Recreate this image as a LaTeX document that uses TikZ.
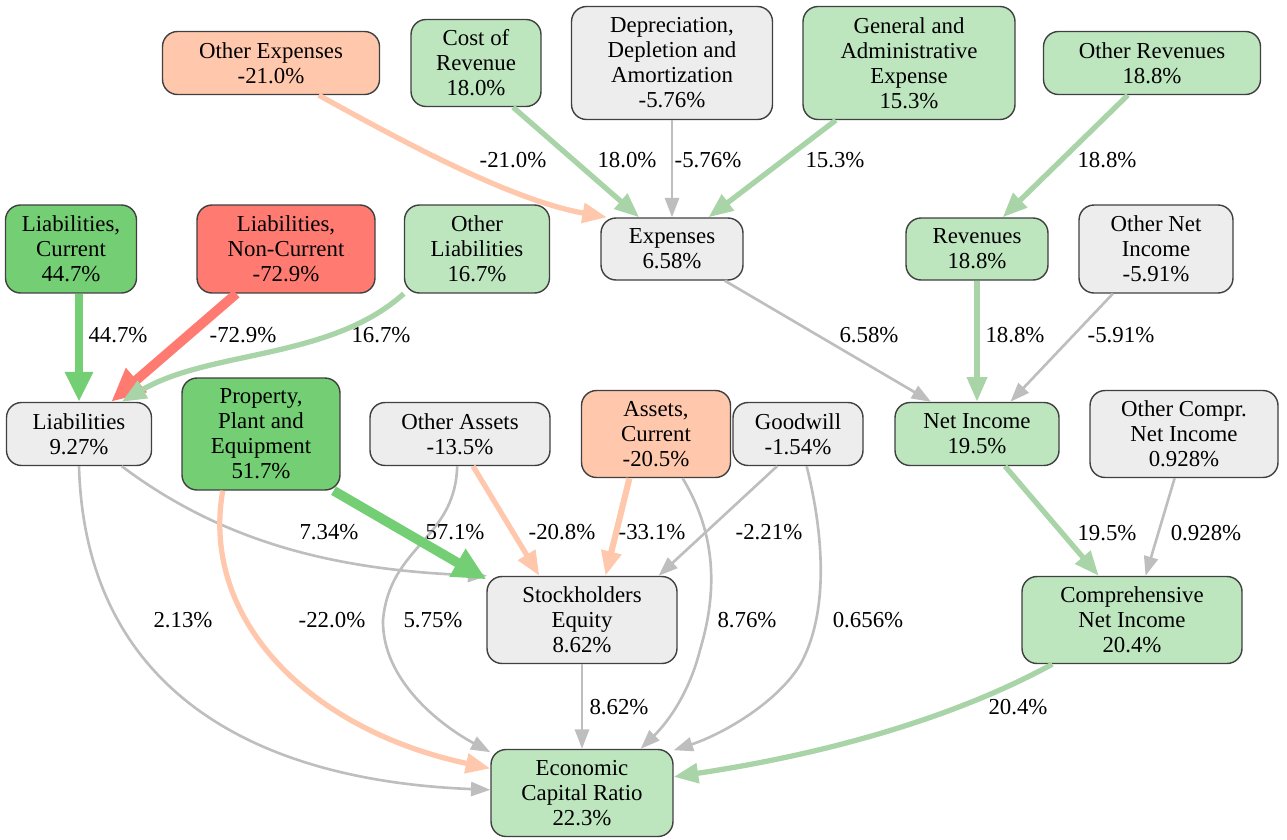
\documentclass[tikz,border=0pt]{standalone}
\usepackage{fontspec}
\setmainfont{Liberation Serif}
\usetikzlibrary{arrows.meta}

\definecolor{fillGood}{HTML}{BDE6BF}
\definecolor{fillBest}{HTML}{74CF74}
\definecolor{fillWorst}{HTML}{FF7B72}
\definecolor{fillBad}{HTML}{FFC8AD}
\definecolor{fillNeutral}{HTML}{EDEDED}
\definecolor{edgeGood}{HTML}{A8D4A8}
\definecolor{edgeNeutral}{HTML}{BEBEBE}

\tikzset{
    box/.style={draw=black!75, line width=0.8pt, rounded corners=0.3cm, align=center, inner sep=0pt},
    sz/.style n args={2}{minimum width=#1, minimum height=#2},
    good/.style={box, fill=fillGood},
    best/.style={box, fill=fillBest},
    bad/.style={box, fill=fillBad},
    worst/.style={box, fill=fillWorst},
    neutral/.style={box, fill=fillNeutral},
    wThin/.style={line width=1.5pt, -{Triangle[length=11pt,width=8pt]}},
    wMid/.style={line width=3pt, -{Triangle[length=14pt,width=11pt]}},
    wBold/.style={line width=4.5pt, -{Triangle[length=17pt,width=15pt]}},
    wHeavy/.style={line width=5.5pt, -{Triangle[length=19pt,width=17pt]}}
}

\begin{document}
\begin{tikzpicture}[x=0.02cm, y=-0.02cm, every node/.style={text=black, font=\fontsize{13}{14.2}\selectfont}]
    \useasboundingbox (0,0) rectangle (1287,839);

    \node[bad, sz={4.34cm}{1.26cm}] (oexp) at (271,63) {Other Expenses\\-21.0\%};
    \node[good, sz={2.60cm}{1.74cm}] (cor) at (476,63) {Cost of\\Revenue\\18.0\%};
    \node[neutral, sz={4.02cm}{2.26cm}] (dda) at (672,63) {Depreciation,\\Depletion and\\Amortization\\-5.76\%};
    \node[good, sz={4.24cm}{2.26cm}] (ga) at (909,63) {General and\\Administrative\\Expense\\15.3\%};
    \node[good, sz={4.34cm}{1.26cm}] (orev) at (1152,63) {Other Revenues\\18.8\%};

    \node[best, sz={2.62cm}{1.76cm}] (lcur) at (71,249) {Liabilities,\\Current\\44.7\%};
    \node[worst, sz={3.56cm}{1.76cm}] (lnc) at (286,249) {Liabilities,\\Non-Current\\-72.9\%};
    \node[good, sz={2.90cm}{1.76cm}] (oliab) at (477,249) {Other\\Liabilities\\16.7\%};
    \node[neutral, sz={2.84cm}{1.24cm}] (exp) at (672,249) {Expenses\\6.58\%};
    \node[good, sz={2.84cm}{1.24cm}] (rev) at (977,249) {Revenues\\18.8\%};
    \node[neutral, sz={3.08cm}{1.76cm}] (oni) at (1156,249) {Other Net\\Income\\-5.91\%};

    \node[neutral, sz={2.90cm}{1.26cm}] (liab) at (79,434) {Liabilities\\9.27\%};
    \node[best, sz={3.16cm}{2.24cm}] (ppe) at (261,434) {Property,\\Plant and\\Equipment\\51.7\%};
    \node[neutral, sz={3.60cm}{1.26cm}] (oas) at (460,434) {Other Assets\\-13.5\%};
    \node[bad, sz={2.98cm}{1.74cm}] (acur) at (656,434) {Assets,\\Current\\-20.5\%};
    \node[neutral, sz={2.60cm}{1.26cm}] (gw) at (798,434) {Goodwill\\-1.54\%};
    \node[good, sz={3.28cm}{1.26cm}] (ni) at (977,434) {Net Income\\19.5\%};
    \node[neutral, sz={3.76cm}{1.74cm}] (ocni) at (1184,434) {Other Compr.\\Net Income\\0.928\%};

    \node[neutral, sz={3.80cm}{1.74cm}] (se) at (582,620) {Stockholders\\Equity\\8.62\%};
    \node[good, sz={4.40cm}{1.74cm}] (cni) at (1132,620) {Comprehensive\\Net Income\\20.4\%};
    \node[good, sz={3.64cm}{1.74cm}] (ecr) at (582,793) {Economic\\Capital Ratio\\22.3\%};

    \draw[wMid, fillBad] (oexp.-34) .. controls (400,140) and (510,200) .. (exp.154)
        node (loexp) at (513,160) {-21.0\%};
    \draw[wMid, edgeGood] (cor.-50) -- (exp.136)
        node (lcor) at (627,160) {18.0\%};
    \draw[wThin, edgeNeutral] (dda.south) -- (exp.north)
        node (ldda) at (708,160) {-5.76\%};
    \draw[wMid, edgeGood] (ga.218) -- (exp.41)
        node (lga) at (835,160) {15.3\%};
    \draw[wMid, edgeGood] (orev.233) -- (rev.51)
        node (lorev) at (1107,160) {18.8\%};

    \draw[wBold, fillBest] (liab.north |- lcur.south) -- (liab.north)
        node (llcur) at (118,335) {44.7\%};
    \draw[wHeavy, fillWorst] (lnc.222) -- (liab.45)
        node (llnc) at (243,335) {-72.9\%};
    \draw[wMid, edgeGood] (oliab.south west) .. controls (330,360) and (210,350) .. (liab.37)
        node (loliab) at (381,335) {16.7\%};
    \draw[wThin, edgeNeutral] (exp.-31) -- (ni.145)
        node (lexp) at (869,335) {6.58\%};
    \draw[wMid, edgeGood] (rev.south) -- (ni.north)
        node (lrev) at (1015,335) {18.8\%};
    \draw[wThin, edgeNeutral] (oni.226) -- (ni.44)
        node (loni) at (1121,335) {-5.91\%};

    \draw[wMid, edgeGood] (ni.-49) -- (cni.127)
        node (lni) at (1107,533) {19.5\%};
    \draw[wThin, edgeNeutral] (ocni.258) -- (cni.73)
        node (locni) at (1206,533) {0.928\%};

    \draw[wThin, edgeNeutral] (liab.-37) .. controls (220,540) and (330,570) .. (se.155)
        node (lliabse) at (329,532) {7.34\%};
    \draw[wThin, edgeNeutral] (liab.south) .. controls (85,680) and (240,780) .. (ecr.178)
        node (lliabecr) at (183,620) {2.13\%};
    \draw[wMid, fillBad] (ppe.236) .. controls (200,620) and (310,730) .. (ecr.165)
        node (lppeecr) at (332,620) {-22.0\%};
    \draw[wThin, edgeNeutral] (oas.265) .. controls (455,540) and (390,545) .. (383,620)
        .. controls (382,680) and (440,725) .. (ecr.156)
        node (loasecr) at (433,620) {5.75\%};
    \draw[wHeavy, fillBest] (ppe.-38) -- (se.157)
        node (lppese) at (455,532) {57.1\%};
    \draw[wMid, fillBad] (oas.-68) -- (se.134)
        node (loasse) at (562,532) {-20.8\%};
    \draw[wMid, line width=3.5pt, fillBad] (acur.239) -- (se.62)
        node (lacurse) at (652,532) {-33.1\%};
    \draw[wThin, edgeNeutral] (acur.-59) .. controls (720,540) and (715,600) .. (700,650)
        .. controls (690,690) and (670,720) .. (ecr.37)
        node (lacurecr) at (747,620) {8.76\%};
    \draw[wThin, edgeNeutral] (gw.237) -- (se.30)
        node (lgwse) at (769,532) {-2.21\%};
    \draw[wThin, edgeNeutral] (gw.-75) .. controls (825,540) and (828,615) .. (800,665)
        .. controls (775,705) and (720,735) .. (ecr.25)
        node (lgwecr) at (868,620) {0.656\%};

    \draw[wThin, edgeNeutral] (se.south) -- (ecr.north)
        node (lse) at (619,707) {8.62\%};
    \draw[wMid, edgeGood] (cni.209) .. controls (950,720) and (820,755) .. (ecr.10)
        node (lcni) at (1018,707) {20.4\%};
  \end{tikzpicture}
\end{document}
